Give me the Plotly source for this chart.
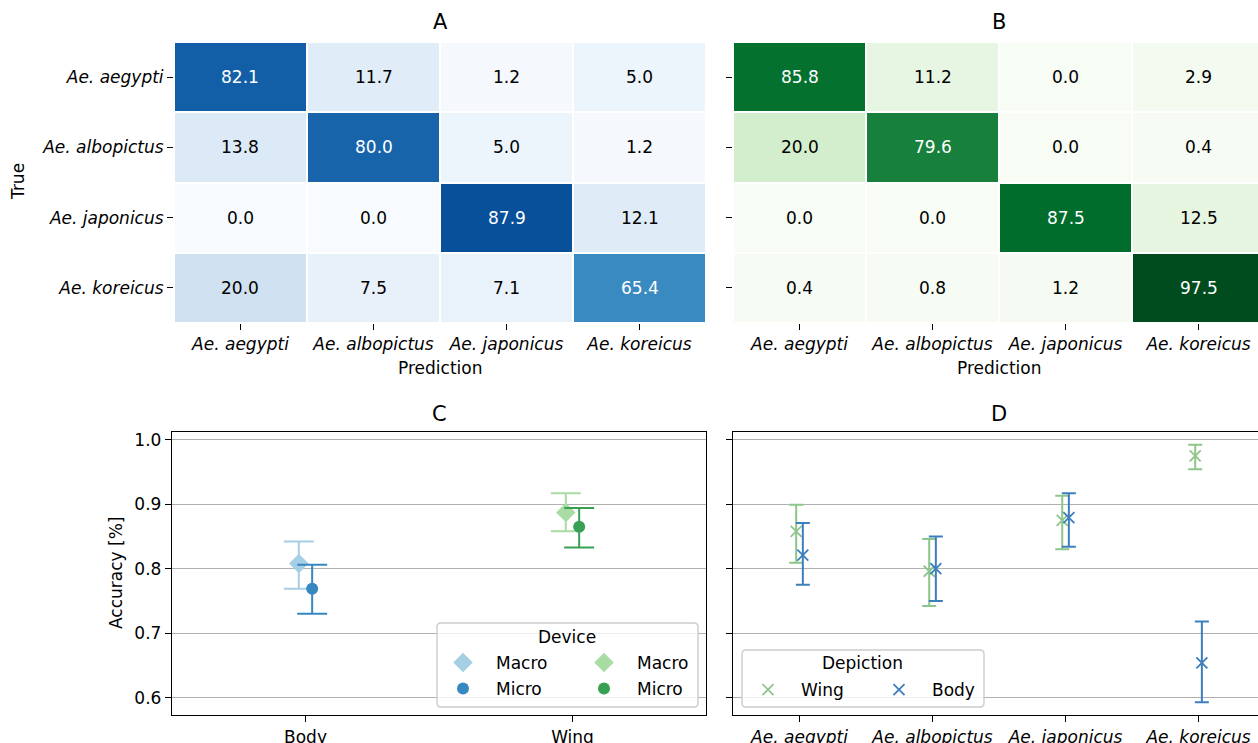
import plotly.graph_objects as go

# ---------------------------------------------------------------- data
species = ["Ae. aegypti", "Ae. albopictus", "Ae. japonicus", "Ae. koreicus"]

# confusion matrices in percent (rows = true class, columns = prediction)
cm_body = [
    [82.1, 11.7, 1.2, 5.0],
    [13.8, 80.0, 5.0, 1.2],
    [0.0, 0.0, 87.9, 12.1],
    [20.0, 7.5, 7.1, 65.4],
]
cm_wing = [
    [85.8, 11.2, 0.0, 2.9],
    [20.0, 79.6, 0.0, 0.4],
    [0.0, 0.0, 87.5, 12.5],
    [0.4, 0.8, 1.2, 97.5],
]

# accuracy per depiction and averaging scheme, with confidence intervals
depictions = ["Body", "Wing"]
macro_acc = [0.808, 0.887]
macro_lo = [0.769, 0.858]
macro_hi = [0.842, 0.917]
micro_acc = [0.769, 0.865]
micro_lo = [0.730, 0.833]
micro_hi = [0.806, 0.894]

# per-class accuracy (diagonal of the confusion matrices) with intervals
wing_acc = [cm_wing[i][i] / 100 for i in range(4)]
wing_lo = [0.809, 0.742, 0.830, 0.954]
wing_hi = [0.899, 0.846, 0.913, 0.992]
body_acc = [cm_body[i][i] / 100 for i in range(4)]
body_lo = [0.775, 0.750, 0.834, 0.593]
body_hi = [0.871, 0.850, 0.917, 0.718]

# ---------------------------------------------------------------- style
W, H = 1258, 743
FONT = "DejaVu Sans"
FS = 17
TITLE_FS = 21
LW = 1.4
DODGE = 0.025

BLUES = ["#f7fbff", "#deebf7", "#c6dbef", "#9ecae1", "#6baed6",
         "#4292c6", "#2171b5", "#08519c", "#08306b"]
GREENS = ["#f7fcf5", "#e5f5e0", "#c7e9c0", "#a1d99b", "#74c476",
          "#41ab5d", "#238b45", "#006d2c", "#00441b"]


def scale(cols):
    n = len(cols) - 1
    return [[i / n, c] for i, c in enumerate(cols)]


def fx(p):
    return p / W


def fy(p):
    return 1 - p / H


def italic(names):
    return [f"<i>{s}</i>" for s in names]


fig = go.Figure()

# ---------------------------------------------------------------- heatmaps
idx = list(range(len(species)))
for cm, cols, xa, ya in [(cm_body, BLUES, "x", "y"), (cm_wing, GREENS, "x2", "y2")]:
    fig.add_trace(go.Heatmap(
        z=cm, x=idx, y=idx, colorscale=scale(cols), zmin=0, zmax=100,
        xgap=2, ygap=2, showscale=False, hoverinfo="skip",
        xaxis=xa, yaxis=ya,
    ))
    for r, row in enumerate(cm):
        for c, v in enumerate(row):
            fig.add_annotation(
                x=c, y=r, xref=xa, yref=ya, text=f"{v:.1f}", showarrow=False,
                font=dict(family=FONT, size=FS, color="white" if v > 50 else "black"),
            )

# ---------------------------------------------------------------- panel C
c_idx = list(range(len(depictions)))
c_series = [
    ("Macro", macro_acc, macro_lo, macro_hi, "#a6cee4", "diamond", 15, -DODGE, 0, "legend"),
    ("Micro", micro_acc, micro_lo, micro_hi, "#3787c0", "circle", 12, DODGE, 0, "legend2"),
    ("Macro", macro_acc, macro_lo, macro_hi, "#a8dca2", "diamond", 15, -DODGE, 1, "legend3"),
    ("Micro", micro_acc, micro_lo, micro_hi, "#37a055", "circle", 12, DODGE, 1, "legend4"),
]
for name, acc, lo, hi, color, sym, size, off, k, leg in c_series:
    fig.add_trace(go.Scatter(
        x=[c_idx[k] + off], y=[acc[k]], mode="markers", name=name,
        marker=dict(color=color, symbol=sym, size=size),
        error_y=dict(type="data", symmetric=False,
                     array=[hi[k] - acc[k]], arrayminus=[acc[k] - lo[k]],
                     color=color, thickness=2, width=15),
        xaxis="x3", yaxis="y3", legend=leg, showlegend=True, hoverinfo="skip",
    ))

# ---------------------------------------------------------------- panel D
for name, acc, lo, hi, color, off, leg in [
    ("Wing", wing_acc, wing_lo, wing_hi, "#8dc68b", -DODGE, "legend5"),
    ("Body", body_acc, body_lo, body_hi, "#3d7ebd", DODGE, "legend6"),
]:
    fig.add_trace(go.Scatter(
        x=[i + off for i in idx], y=acc, mode="markers", name=name,
        marker=dict(symbol="x-thin", size=11, line=dict(color=color, width=1.8)),
        error_y=dict(type="data", symmetric=False,
                     array=[h - a for h, a in zip(hi, acc)],
                     arrayminus=[a - l for a, l in zip(acc, lo)],
                     color=color, thickness=2, width=7),
        xaxis="x4", yaxis="y4", legend=leg, showlegend=True, hoverinfo="skip",
    ))

# shared accuracy range with 5 % padding around all intervals
all_lo = macro_lo + micro_lo + wing_lo + body_lo
all_hi = macro_hi + micro_hi + wing_hi + body_hi
pad = 0.05 * (max(all_hi) - min(all_lo))
acc_range = [min(all_lo) - pad, max(all_hi) + pad]
acc_ticks = [0.6, 0.7, 0.8, 0.9, 1.0]

# ---------------------------------------------------------------- axes
tickfont = dict(family=FONT, size=FS, color="black")
heat_ax = dict(showgrid=False, zeroline=False, showline=False, ticks="outside",
               ticklen=6, tickwidth=LW, tickcolor="black", tickfont=tickfont,
               automargin=False)
box_ax = dict(zeroline=False, showline=True, mirror=True, linecolor="black",
              linewidth=LW, ticks="outside", ticklen=6, tickwidth=LW,
              tickcolor="black", tickfont=tickfont, automargin=False)

fig.update_layout(
    xaxis=dict(domain=[fx(174), fx(706)], range=[-0.5, 3.5], tickvals=idx,
               ticktext=italic(species), anchor="y", **heat_ax),
    yaxis=dict(domain=[fy(323), fy(42)], range=[3.5, -0.5], tickvals=idx,
               ticktext=italic(species), anchor="x", **heat_ax),
    xaxis2=dict(domain=[fx(733), 1.0], range=[-0.5, 3.447], tickvals=idx,
                ticktext=italic(species), anchor="y2", **heat_ax),
    yaxis2=dict(domain=[fy(323), fy(42)], range=[3.5, -0.5], tickvals=idx,
                showticklabels=False, anchor="x2", **heat_ax),
    xaxis3=dict(domain=[fx(172), fx(706)], range=[-0.5, 1.5], tickvals=c_idx,
                ticktext=depictions, showgrid=False, anchor="y3", **box_ax),
    yaxis3=dict(domain=[fy(715), fy(432)], range=acc_range, tickvals=acc_ticks,
                ticktext=[f"{t:.1f}" for t in acc_ticks], showgrid=True,
                gridcolor="#b0b0b0", gridwidth=LW, anchor="x3", **box_ax),
    xaxis4=dict(domain=[fx(733), 1.0], range=[-0.5, 3.447], tickvals=idx,
                ticktext=italic(species), showgrid=False, anchor="y4", **box_ax),
    yaxis4=dict(domain=[fy(715), fy(432)], range=acc_range, tickvals=acc_ticks,
                showticklabels=False, showgrid=True, gridcolor="#b0b0b0",
                gridwidth=LW, anchor="x4", **box_ax),
)

# ---------------------------------------------------------------- legends
ITEM_W = 56
leg_base = dict(bgcolor="rgba(0,0,0,0)", borderwidth=0, xanchor="left",
                yanchor="middle", font=dict(family=FONT, size=FS, color="black"),
                itemclick=False, itemdoubleclick=False, itemwidth=ITEM_W, visible=True)
legend_pos = {
    "legend": (462, 663), "legend2": (462, 689),
    "legend3": (603, 663), "legend4": (603, 689),
    "legend5": (767, 690), "legend6": (898, 690),
}
for key, (mx, my) in legend_pos.items():
    fig.update_layout({key: dict(x=fx(mx - 32), y=fy(my), **leg_base)})


def frame(x0, y0, x1, y1, r=4):
    rx, ry = r / W, r / H
    X0, X1, Y0, Y1 = fx(x0), fx(x1), fy(y1), fy(y0)
    path = (f"M{X0 + rx},{Y0} L{X1 - rx},{Y0} Q{X1},{Y0} {X1},{Y0 + ry} "
            f"L{X1},{Y1 - ry} Q{X1},{Y1} {X1 - rx},{Y1} L{X0 + rx},{Y1} "
            f"Q{X0},{Y1} {X0},{Y1 - ry} L{X0},{Y0 + ry} Q{X0},{Y0} {X0 + rx},{Y0} Z")
    return dict(type="path", path=path, xref="paper", yref="paper", layer="above",
                fillcolor="rgba(255,255,255,0.8)", line=dict(color="#cccccc", width=1.4))


fig.update_layout(shapes=[frame(437, 623, 698, 707), frame(742, 650, 984, 707)])

# ---------------------------------------------------------------- text
def label(text, x, y, size=FS, angle=0):
    fig.add_annotation(text=text, x=fx(x), y=fy(y), xref="paper", yref="paper",
                       showarrow=False, textangle=angle, xanchor="center",
                       yanchor="middle", font=dict(family=FONT, size=size, color="black"))


label("A", 440, 22, TITLE_FS)
label("B", 999, 22, TITLE_FS)
label("C", 439, 414, TITLE_FS)
label("D", 999, 414, TITLE_FS)
label("True", 18, 182, angle=-90)
label("Prediction", 440, 368)
label("Prediction", 999, 368)
label("Accuracy [%]", 116, 573, angle=-90)
label("Device", 567, 637)
label("Depiction", 863, 663)

fig.update_layout(
    width=W, height=H, margin=dict(l=0, r=0, t=0, b=0),
    paper_bgcolor="white", plot_bgcolor="white", template="none",
    showlegend=True,
    font=dict(family=FONT, size=FS, color="black"),
)

fig.write_html("out.html")
